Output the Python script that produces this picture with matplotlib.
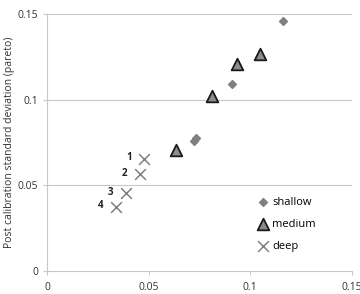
import numpy as np
from matplotlib import pyplot as plt

plt.rcParams['font.family'] = ['Open Sans', 'DejaVu Sans']

# dados
shallow_x = [0.0725, 0.0735, 0.091, 0.116]
shallow_y = [0.0757, 0.0777, 0.109, 0.146]
medium_x = [0.0634, 0.0813, 0.0936, 0.105]
medium_y = [0.0706, 0.102, 0.1208, 0.1266]
deep_x = [0.0479, 0.0458, 0.0389, 0.0338]
deep_y = [0.0653, 0.0564, 0.0453, 0.0375]
deep_labels = ["1", "2", "3", "4"]

fig = plt.figure(figsize=(3.6, 2.94), dpi=100)
ax = fig.add_axes([0.1306, 0.0782, 0.847, 0.874])

grid = "#c8c8c8"
for yv in [0.05, 0.1, 0.15]:
    ax.axhline(yv, color=grid, linewidth=0.8, zorder=0)

ax.scatter(shallow_x, shallow_y, marker="D", s=16, color="#808080", label="shallow", zorder=3)
ax.scatter(medium_x, medium_y, marker="^", s=70, facecolor="#8c8c8c", edgecolor="#1a1a1a",
           linewidth=1.3, label="medium", zorder=3)
ax.scatter(deep_x, deep_y, marker="x", s=60, color="#808080", linewidth=1.1, label="deep", zorder=3)

for x, y, t in zip(deep_x, deep_y, deep_labels):
    ax.annotate(t, (x, y), xytext=(-9, 1), textcoords="offset points", fontsize=7,
                fontweight="bold", ha="right", va="center", color="#222222")

ax.set_xlim(0, 0.15)
ax.set_ylim(0, 0.15)
ax.set_xticks([0, 0.05, 0.1, 0.15])
ax.set_xticklabels(["0", "0.05", "0.1", "0.15"])
ax.set_yticks([0, 0.05, 0.1, 0.15])
ax.set_yticklabels(["0", "0.05", "0.1", "0.15"])
ax.tick_params(colors=grid, labelcolor="#333333", labelsize=7.5, length=3, width=0.8)
ax.tick_params(axis="x", pad=5)

for s in ["top", "right"]:
    ax.spines[s].set_visible(False)
ax.spines["left"].set_color(grid)
ax.spines["bottom"].set_color(grid)
ax.spines["left"].set_linewidth(0.8)
ax.spines["bottom"].set_linewidth(0.8)

ax.set_ylabel("Post calibration standard deviation (pareto)", fontsize=7.5, color="#333333", labelpad=2)

ax.legend(loc="lower right", bbox_to_anchor=(0.915, 0.035), frameon=False, fontsize=8,
          labelspacing=1.0, handletextpad=0.25, handlelength=1.2)

plt.savefig("out.png", dpi=100)
